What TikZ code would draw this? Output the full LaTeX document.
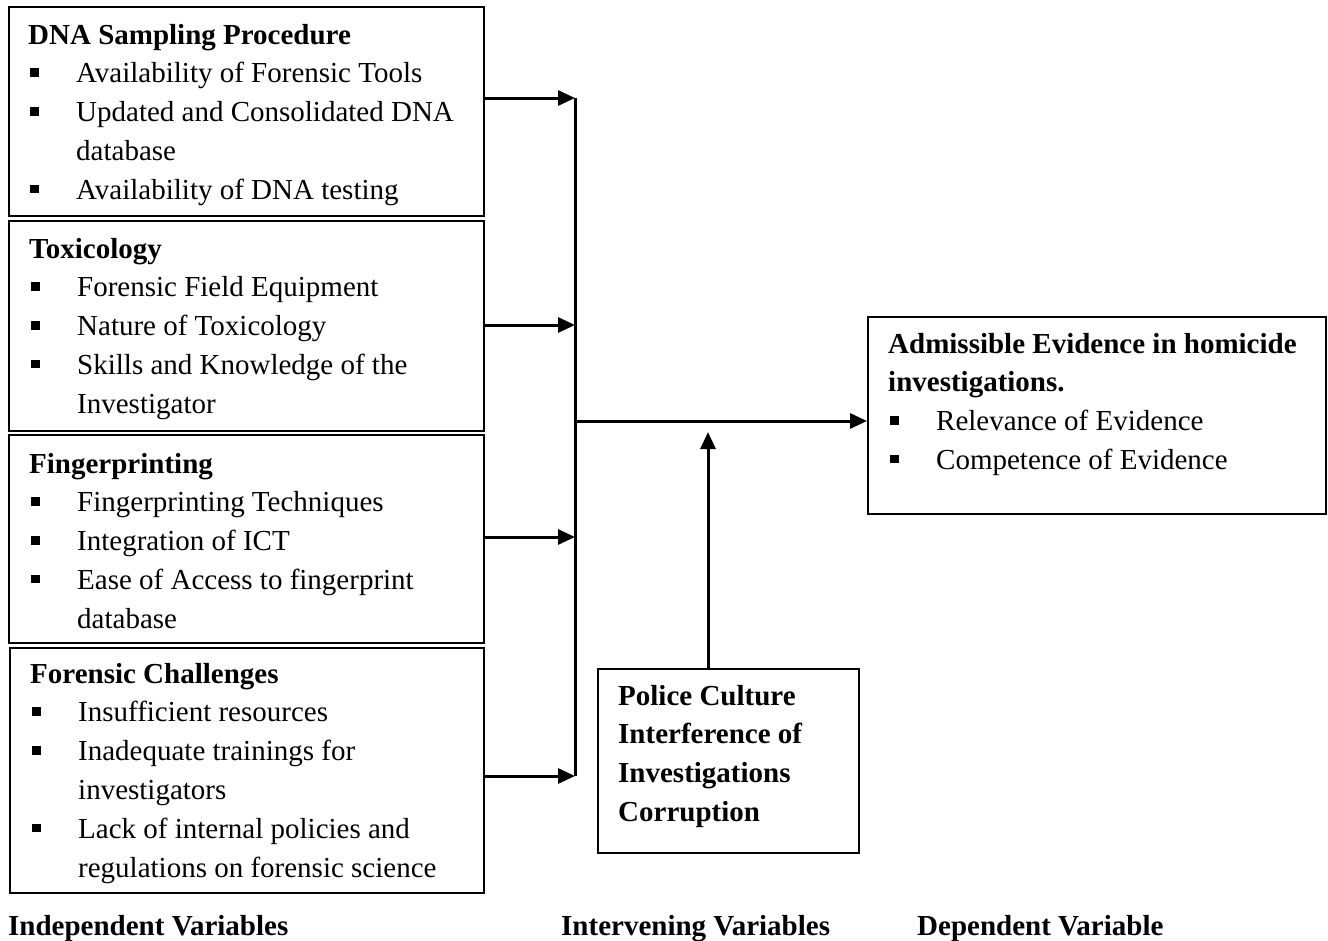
\documentclass[tikz,border=0pt]{standalone}
\usepackage{fontspec}
\setmainfont{Liberation Serif}
\usetikzlibrary{arrows.meta}
\newcommand{\bitem}[1]{\makebox[48pt][l]{\hspace{2pt}\raisebox{6pt}{\rule{8.5pt}{8.5pt}}}#1}
\newcommand{\cont}[1]{\hspace*{48pt}#1}
\newcommand{\blk}[1]{\parbox[t]{520pt}{\raggedright #1}}
\begin{document}
\begin{tikzpicture}[x=1pt,y=-1pt,
  box/.style={draw, line width=2.4pt, anchor=north west, inner sep=0pt},
  txt/.style={anchor=base west, inner sep=0pt, font=\fontsize{29}{38.8}\selectfont},
  arr/.style={line width=3pt, -{Triangle[length=17pt,width=15pt]}},
  busline/.style={line width=3pt}]
\useasboundingbox (0,0) rectangle (1328,940);

% boxes
\node[box, minimum width=475pt, minimum height=209pt] (b1) at (8,6) {};
\node[box, minimum width=475pt, minimum height=210pt] (b2) at (8,220) {};
\node[box, minimum width=475pt, minimum height=208pt] (b3) at (8,434) {};
\node[box, minimum width=474pt, minimum height=245pt] (b4) at (9,647) {};
\node[box, minimum width=458pt, minimum height=197pt] (dep) at (867,316) {};
\node[box, minimum width=261pt, minimum height=184pt] (pol) at (597,668) {};

% texts
\node[txt] (t1) at (28,44) {\blk{\textbf{DNA Sampling Procedure}\\
  \bitem{Availability of Forensic Tools}\\
  \bitem{Updated and Consolidated DNA}\\
  \cont{database}\\
  \bitem{Availability of DNA testing}}};
\node[txt] (t2) at (29,258) {\blk{\textbf{Toxicology}\\
  \bitem{Forensic Field Equipment}\\
  \bitem{Nature of Toxicology}\\
  \bitem{Skills and Knowledge of the}\\
  \cont{Investigator}}};
\node[txt] (t3) at (29,473) {\blk{\textbf{Fingerprinting}\\
  \bitem{Fingerprinting Techniques}\\
  \bitem{Integration of ICT}\\
  \bitem{Ease of Access to fingerprint}\\
  \cont{database}}};
\node[txt] (t4) at (30,683) {\blk{\textbf{Forensic Challenges}\\
  \bitem{Insufficient resources}\\
  \bitem{Inadequate trainings for}\\
  \cont{investigators}\\
  \bitem{Lack of internal policies and}\\
  \cont{regulations on forensic science}}};
\node[txt] (t5) at (888,353) {\blk{\textbf{Admissible Evidence in homicide}\\
  \textbf{investigations.}\\
  \bitem{Relevance of Evidence}\\
  \bitem{Competence of Evidence}}};
\node[txt] (t6) at (618,705) {\blk{\textbf{Police Culture}\\
  \textbf{Interference of}\\
  \textbf{Investigations}\\
  \textbf{Corruption}}};

% bottom labels
\node[txt] (l1) at (8,935) {\textbf{Independent Variables}};
\node[txt] (l2) at (561,935) {\textbf{Intervening Variables}};
\node[txt] (l3) at (917,935) {\textbf{Dependent Variable}};

% connectors
\coordinate (k1) at (575,98);
\coordinate (k2) at (575,325);
\coordinate (k3) at (575,537);
\coordinate (k4) at (575,776);
\coordinate (km) at (575,421);
\coordinate (up) at (708,432);

\draw[busline] (k1) -- (k4);
\draw[arr] (b1.east |- k1) -- (k1);
\draw[arr] (b2.east |- k2) -- (k2);
\draw[arr] (b3.east |- k3) -- (k3);
\draw[arr] (b4.east |- k4) -- (k4);
\draw[arr] (km) -- (dep.west |- km);
\draw[arr] (pol.north -| up) -- (up);
\end{tikzpicture}
\end{document}
